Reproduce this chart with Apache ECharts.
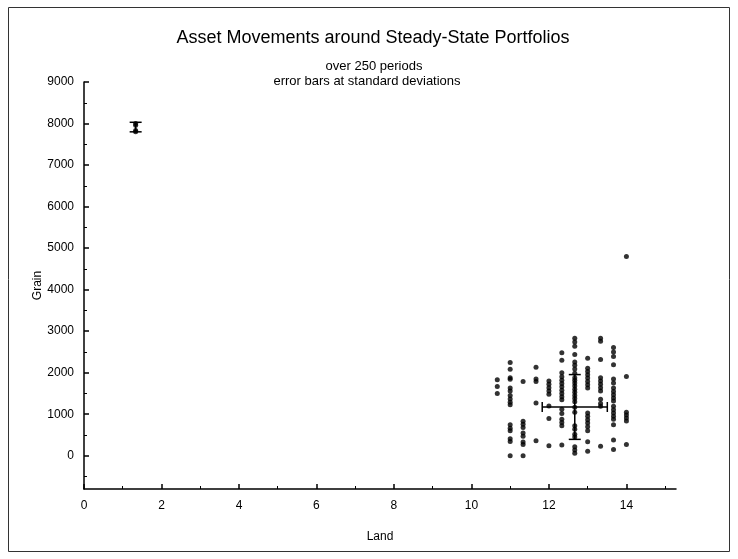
<!DOCTYPE html>
<html>
<head>
<meta charset="utf-8">
<script src="https://cdn.jsdelivr.net/npm/echarts@6/dist/echarts.min.js"></script>
<style>
  html, body { margin: 0; padding: 0; background: #fff; }
  #mainChart { width: 738px; height: 559px; }
</style>
</head>
<body>
<div id="mainChart"></div>
<script>
// land position of each column of points (land moves in thirds)
const columnLand = [10.667, 11, 11.333, 11.667, 12, 12.333, 12.667, 13, 13.333, 13.667, 14]
// grain values found in each column
const columnGrain = [
  [1830, 1670, 1500],
  [2245, 2085, 1880, 1840, 1630, 1560, 1450, 1370, 1290, 1230, 745, 665, 600, 410, 345, 0],
  [1790, 830, 760, 680, 550, 470, 330, 270, 0],
  [2130, 1850, 1790, 1270, 360],
  [1800, 1720, 1640, 1560, 1480, 1200, 900, 240],
  [2480, 2300, 2000, 1900, 1820, 1740, 1660, 1580, 1500, 1420, 1350, 1120, 1020, 880, 800, 720, 260],
  [2830, 2740, 2640, 2440, 2260, 2180, 2090, 1990, 1880, 1820, 1750, 1680, 1600, 1530, 1450, 1380, 1300, 1170, 1050, 720, 640, 520, 450, 220, 140, 60],
  [2350, 2110, 2030, 1950, 1870, 1790, 1710, 1630, 1030, 950, 870, 790, 700, 600, 340, 110],
  [2830, 2760, 2320, 1880, 1800, 1720, 1640, 1560, 1360, 1260, 1190, 230],
  [2610, 2500, 2390, 2190, 1850, 1750, 1630, 1550, 1470, 1390, 1320, 1190, 1110, 1030, 950, 880, 750, 380, 150],
  [4800, 1910, 1050, 980, 910, 840, 270]
]
// the small group near the top left
const cornerLand = [1.333, 1.333, 1.333, 1.333]
const cornerGrain = [8000, 7960, 7830, 7800]

// error bars: mean and standard deviation
const barLandMean = [12.667, 1.333]
const barGrainMean = [1175, 7915]
const barLandStd = [0.84, 0]
const barGrainStd = [780, 115]

const landMajor = [0, 2, 4, 6, 8, 10, 12, 14]
const landMinor = [1, 3, 5, 7, 9, 11, 13, 15]
const grainMajor = [0, 1000, 2000, 3000, 4000, 5000, 6000, 7000, 8000, 9000]
const grainMinor = [-500, 500, 1500, 2500, 3500, 4500, 5500, 6500, 7500, 8500]

const chart = echarts.init(document.getElementById('mainChart'))

const points = []
columnLand.forEach((x, i) => {
  columnGrain[i].forEach(y => points.push([x, y]))
})
cornerLand.forEach((x, i) => points.push([x, cornerGrain[i]]))

const bars = barLandMean.map((x, i) => [x, barGrainMean[i], barLandStd[i], barGrainStd[i]])

const font = 'Liberation Sans, Arial, sans-serif'
const lineStyle = { color: '#000', width: 1.5 }
const plain = v => String(v)

const option = {
  animation: false,
  backgroundColor: '#fff',
  graphic: [{
    type: 'rect',
    shape: { x: 8.5, y: 7.5, width: 721, height: 544 },
    style: { fill: null, stroke: '#333', lineWidth: 1 },
    silent: true
  }, {
    type: 'text',
    x: 373, y: 38,
    style: { text: 'Asset Movements around Steady-State Portfolios', font: '18px ' + font, fill: '#000', align: 'center', verticalAlign: 'middle' }
  }, {
    type: 'text',
    x: 374, y: 66,
    style: { text: 'over 250 periods', font: '13px ' + font, fill: '#000', align: 'center', verticalAlign: 'middle' }
  }, {
    type: 'text',
    x: 367, y: 81,
    style: { text: 'error bars at standard deviations', font: '13px ' + font, fill: '#000', align: 'center', verticalAlign: 'middle' }
  }],
  grid: {
    left: 84,
    right: 62,
    top: 82,
    bottom: 70
  },
  xAxis: [{
    type: 'value',
    min: 0,
    max: 15.28,
    position: 'bottom',
    name: 'Land',
    nameLocation: 'middle',
    nameGap: 42,
    nameMoveOverlap: false,
    nameTextStyle: { color: '#000', fontSize: 12, fontFamily: font },
    axisLine: { onZero: false, lineStyle: lineStyle },
    axisTick: { inside: true, length: 5, customValues: landMajor, lineStyle: lineStyle },
    axisLabel: { customValues: landMajor, formatter: plain, color: '#000', fontSize: 12, fontFamily: font, margin: 11 },
    splitLine: { show: false }
  }, {
    type: 'value',
    min: 0,
    max: 15.28,
    position: 'bottom',
    axisLine: { show: false, onZero: false },
    axisTick: { inside: true, length: 3, customValues: landMinor, lineStyle: { color: '#000', width: 1 } },
    axisLabel: { show: false },
    splitLine: { show: false }
  }],
  yAxis: [{
    type: 'value',
    min: -800,
    max: 9000,
    position: 'left',
    name: 'Grain',
    nameLocation: 'middle',
    nameGap: 40,
    nameMoveOverlap: false,
    nameTextStyle: { color: '#000', fontSize: 12, fontFamily: font },
    axisLine: { onZero: false, lineStyle: lineStyle },
    axisTick: { inside: true, length: 5, customValues: grainMajor, lineStyle: lineStyle },
    axisLabel: { customValues: grainMajor, formatter: plain, color: '#000', fontSize: 12, fontFamily: font, margin: 10 },
    splitLine: { show: false }
  }, {
    type: 'value',
    min: -800,
    max: 9000,
    position: 'left',
    axisLine: { show: false, onZero: false },
    axisTick: { inside: true, length: 3, customValues: grainMinor, lineStyle: { color: '#000', width: 1 } },
    axisLabel: { show: false },
    splitLine: { show: false }
  }],
  series: [{
    name: 'periods',
    type: 'scatter',
    data: points,
    symbol: 'circle',
    symbolSize: 5,
    itemStyle: { color: '#000' }
  }, {
    name: 'std',
    type: 'custom',
    data: bars,
    renderItem: (params, api) => {
      const x = api.value(0)
      const y = api.value(1)
      const dx = api.value(2)
      const dy = api.value(3)
      const left = api.coord([x - dx, y])
      const right = api.coord([x + dx, y])
      const top = api.coord([x, y + dy])
      const bottom = api.coord([x, y - dy])
      const capW = 6
      const capH = 5
      const style = { stroke: '#000', lineWidth: 1.5 }
      const children = [
        { type: 'line', shape: { x1: top[0], y1: top[1], x2: bottom[0], y2: bottom[1] }, style },
        { type: 'line', shape: { x1: top[0] - capW, y1: top[1], x2: top[0] + capW, y2: top[1] }, style },
        { type: 'line', shape: { x1: bottom[0] - capW, y1: bottom[1], x2: bottom[0] + capW, y2: bottom[1] }, style }
      ]
      if (dx > 0) {
        children.push(
          { type: 'line', shape: { x1: left[0], y1: left[1], x2: right[0], y2: right[1] }, style },
          { type: 'line', shape: { x1: left[0], y1: left[1] - capH, x2: left[0], y2: left[1] + capH }, style },
          { type: 'line', shape: { x1: right[0], y1: right[1] - capH, x2: right[0], y2: right[1] + capH }, style }
        )
      }
      return { type: 'group', children }
    }
  }]
}

chart.setOption(option)
</script>
</body>
</html>
